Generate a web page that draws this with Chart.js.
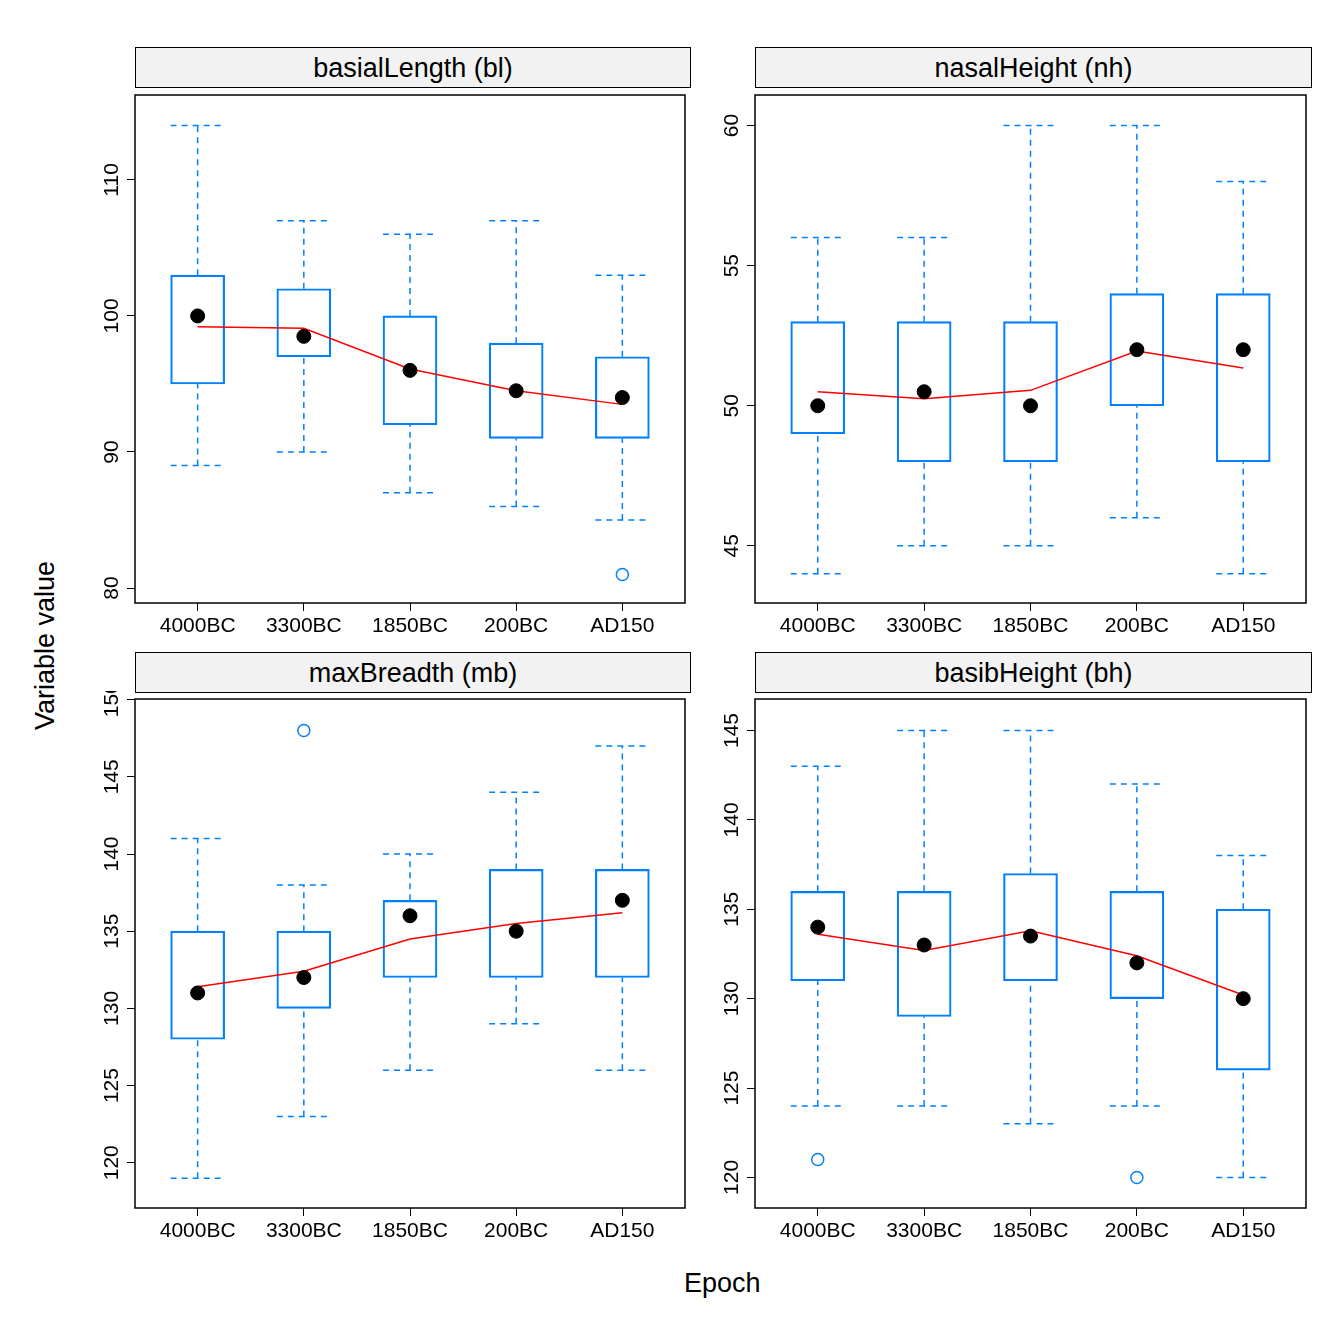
<!DOCTYPE html>
<html><head><meta charset="utf-8">
<script src="https://cdn.jsdelivr.net/npm/chart.js@4/dist/chart.umd.min.js"></script>
<style>
body{margin:0;background:#fff;font-family:"Liberation Sans",Arial,sans-serif;}
#wrap{position:relative;width:1344px;height:1344px;}
canvas{position:absolute;}
.strip{position:absolute;height:41px;background:#f2f2f2;border:1.5px solid #000;box-sizing:border-box;text-align:center;font-size:27px;line-height:40px;}
.lab{position:absolute;font-size:27px;}
</style></head><body>
<div id="wrap"></div>
<script>
const epochs = ['4000BC','3300BC','1850BC','200BC','AD150'];
const panelTitles = ['basialLength (bl)','nasalHeight (nh)','maxBreadth (mb)','basibHeight (bh)'];
// whisker low/high, box q1/q3, medians, means, outliers per variable
const whiskLo = [[89,90,87,86,85],[44,45,45,46,44],[119,123,126,129,126],[124,124,123,124,120]];
const whiskHi = [[114,107,106,107,103],[56,56,60,60,58],[141,138,140,144,147],[143,145,145,142,138]];
const q1 = [[95,97,92,91,91],[49,48,48,50,48],[128,130,132,132,132],[131,129,131,130,126]];
const q3 = [[103,102,100,98,97],[53,53,53,54,54],[135,135,137,139,139],[136,136,137,136,135]];
const medians = [[100,98.5,96,94.5,94],[50,50.5,50,52,52],[131,132,136,135,137],[134,133,133.5,132,130]];
const means = [[99.2,99.1,96.1,94.5,93.5],[50.5,50.25,50.55,51.95,51.35],[131.4,132.4,134.5,135.5,136.2],[133.6,132.7,133.8,132.4,130.2]];
const outliers = [[{x:5,y:81}],[],[{x:2,y:148}],[{x:1,y:121},{x:4,y:120}]];
const yMin = [78.9,42.96,117.07,118.29];
const yMax = [116.24,61.09,150.04,146.76];
const yStep = [10,5,5,5];

const BLUE = '#0080ff';
const YW = 55, XH = 45;
const areas = [[135,87,691,603],[755,87,1312,603],[135,691,691,1208],[755,691,1312,1208]];
const stripTops = [47,47,652,652];
const wrap = document.getElementById('wrap');

const whiskerPlugin = {
  id:'whiskers',
  afterDatasetsDraw(chart){
    const i = chart.options.plugins.whiskers.idx;
    const ctx = chart.ctx, xs = chart.scales.x, ys = chart.scales.y;
    ctx.save();
    ctx.strokeStyle = BLUE; ctx.lineWidth = 1.5;
    for (let k=0;k<5;k++){
      const x = xs.getPixelForValue(k+1);
      ctx.setLineDash([6,5]);
      ctx.beginPath();
      ctx.moveTo(x, ys.getPixelForValue(whiskLo[i][k])); ctx.lineTo(x, ys.getPixelForValue(q1[i][k]));
      ctx.moveTo(x, ys.getPixelForValue(q3[i][k])); ctx.lineTo(x, ys.getPixelForValue(whiskHi[i][k]));
      ctx.moveTo(x-27, ys.getPixelForValue(whiskLo[i][k])); ctx.lineTo(x+27, ys.getPixelForValue(whiskLo[i][k]));
      ctx.moveTo(x-27, ys.getPixelForValue(whiskHi[i][k])); ctx.lineTo(x+27, ys.getPixelForValue(whiskHi[i][k]));
      ctx.stroke();
    }
    ctx.setLineDash([]);
    const a = chart.chartArea;
    ctx.strokeStyle = '#000'; ctx.lineWidth = 1.5;
    ctx.strokeRect(a.left, a.top, a.right-a.left, a.bottom-a.top);
    // rotated y tick labels
    ctx.fillStyle = '#000';
    ctx.font = '21px "Liberation Sans", Arial, sans-serif';
    ctx.textAlign = 'center'; ctx.textBaseline = 'bottom';
    ys.ticks.forEach(t => {
      const y = ys.getPixelForValue(t.value);
      ctx.save();
      ctx.translate(a.left - 12, y);
      ctx.rotate(-Math.PI/2);
      ctx.fillText(String(t.value), 0, 0);
      ctx.restore();
    });
    ctx.restore();
  }
};

for (let i=0;i<4;i++){
  const [l,t,r,b] = areas[i];
  const cv = document.createElement('canvas');
  cv.style.left = (l-YW)+'px'; cv.style.top = t+'px';
  cv.width = r-l+YW+2; cv.height = b-t+XH;
  cv.style.width = cv.width+'px'; cv.style.height = cv.height+'px';
  wrap.appendChild(cv);
  const strip = document.createElement('div');
  strip.className='strip';
  strip.style.left=l+'px'; strip.style.top=stripTops[i]+'px'; strip.style.width=(r-l)+'px';
  strip.textContent = panelTitles[i];
  wrap.appendChild(strip);

  new Chart(cv.getContext('2d'), {
    type:'bar',
    data:{datasets:[
      {type:'scatter',data:outliers[i],pointStyle:'circle',pointRadius:6,borderColor:BLUE,backgroundColor:'rgba(0,0,0,0)',borderWidth:1.5,order:1},
      {type:'line',data:means[i].map((v,k)=>({x:k+1,y:v})),borderColor:'#ff0000',borderWidth:1.5,pointRadius:0,order:2},
      {type:'scatter',data:medians[i].map((v,k)=>({x:k+1,y:v})),pointRadius:7,backgroundColor:'#000',borderColor:'#000',order:0},
      {type:'bar',data:q1[i].map((v,k)=>({x:k+1,y:[v,q3[i][k]]})),backgroundColor:'rgba(0,0,0,0)',borderColor:BLUE,borderWidth:1.5,borderSkipped:false,barThickness:54,order:3}
    ]},
    options:{
      animation:false,responsive:false,
      layout:{padding:0},
      plugins:{legend:{display:false},tooltip:{enabled:false},whiskers:{idx:i}},
      scales:{
        x:{type:'linear',offset:false,min:0.41,max:5.59,afterFit(s){s.height=XH;},
           afterBuildTicks(s){s.ticks=[1,2,3,4,5].map(v=>({value:v}));},
           grid:{drawOnChartArea:false,tickLength:8,color:'#000',offset:false},border:{display:false},
           ticks:{color:'#000',font:{size:21,family:'Liberation Sans'},maxRotation:0,autoSkip:false,callback:v=>epochs[v-1]}},
        y:{min:yMin[i],max:yMax[i],afterFit(s){s.width=YW;},
           afterBuildTicks(s){const out=[];for(let v=Math.ceil(yMin[i]/yStep[i])*yStep[i];v<=yMax[i];v+=yStep[i])out.push({value:v});s.ticks=out;},
           grid:{drawOnChartArea:false,tickLength:8,color:'#000'},border:{display:false},
           ticks:{display:false}}
      }
    },
    plugins:[whiskerPlugin]
  });
}
const xl = document.createElement('div'); xl.className='lab'; xl.textContent='Epoch';
xl.style.left='684px'; xl.style.top='1268px'; wrap.appendChild(xl);
const yl = document.createElement('div'); yl.className='lab'; yl.textContent='Variable value';
yl.style.left='-45px'; yl.style.top='630px'; yl.style.transform='rotate(-90deg)'; yl.style.width='180px'; yl.style.textAlign='center'; wrap.appendChild(yl);
</script></body></html>
